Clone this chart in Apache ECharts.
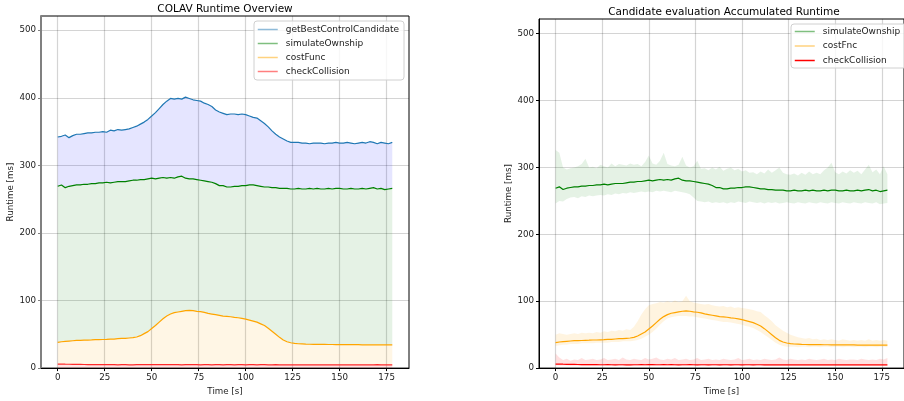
<!DOCTYPE html>
<html><head><meta charset="utf-8">
<script src="https://cdn.jsdelivr.net/npm/echarts@6/dist/echarts.min.js"></script>
<style>html,body{margin:0;padding:0;background:#fff}#c{width:904px;height:401px}</style>
</head><body><div id="c"></div>
<script>
// ---- data ----
const time = [0,2,4,6,8,10,12,14,16,18,20,22,24,26,28,30,32,34,36,38,40,42,44,46,48,50,52,54,56,58,60,62,64,66,68,70,72,74,76,78,80,82,84,86,88,90,92,94,96,98,100,102,104,106,108,110,112,114,116,118,120,122,124,126,128,130,132,134,136,138,140,142,144,146,148,150,152,154,156,158,160,162,164,166,168,170,172,174,176,178];
const getBestControlCandidate = [342,343,345,341,344,346,346,347,348,348, 349,349,350,349,352,351,353,352,353,354, 356,358,361,364,368,373,378,384,390,395, 399,398,399,398,401,399,397,396,395,392, 390,387,382,379,377,375,376,376,375,376, 375,373,371,370,366,362,357,351,346,342, 339,336,334,334,334,333,333,332,333,333, 333,332,333,333,334,333,333,334,333,332, 333,334,333,335,334,332,334,333,332,334];
const simulateOwnship = [269,271,267,269,270,271,271,272,272,273, 273,274,274,275,274,275,276,276,276,277, 278,278,279,279,280,281,280,281,282,281, 282,281,283,284,281,280,280,279,278,277, 276,275,273,270,270,268,268,269,269,270, 270,271,271,270,269,268,268,267,267,266, 266,266,265,265,266,265,265,266,265,266, 265,265,266,265,266,266,265,265,266,265, 265,266,265,266,267,265,266,264,265,266];
const costFunc = [38,39,39.5,40,40.5,41,41,41.3,41.5,41.7, 42,42,42.3,42.5,43,43,43.5,44,44,44.5, 45,46,48,51,54,58.5,63,68,73,77, 80,82,83,84,85,85.5,85,84,83.5,82.5, 81,80,79,78,77,76.5,76,75,74.5,73.5, 72.5,71,69.5,68,65.5,63,59,54.5,50,45.5, 41.5,39,37.5,36.5,36,35.8,35.5,35.3,35.2,35, 35,35,34.9,34.9,34.8,34.8,34.8,34.7,34.7,34.6, 34.6,34.5,34.5,34.5,34.4,34.4,34.4,34.3,34.3,34.3];
const checkCollision = [6,6,5.8,5.7,5.5,5.5,5.4,5.3,5.2,5.2, 5.1,5.1,5,5,5.1,5,4.9,5,5,4.9, 4.9,5,5,5.1,5,5.2,5.1,5,5,5.1, 5,5.1,5,4.9,5,5,5.1,5,4.9,5, 5,4.9,5,5,4.9,5,5,4.9,5,5, 4.9,5,5,4.9,5,5,4.8,4.9,5,4.8, 4.9,4.8,4.9,4.8,4.9,4.8,4.8,4.9,4.8,4.8, 4.9,4.8,4.8,4.9,4.8,4.8,4.9,4.8,4.8,4.9, 4.8,4.8,4.9,4.8,4.8,5,4.8,4.9,4.8,4.8];
const simUpper = [326,322,300,297,299,300,302,305,313,300, 301,299,304,302,300,306,302,305,304,303, 306,304,305,302,308,318,306,304,310,322, 305,303,302,304,316,303,300,302,310,298, 299,296,300,297,301,295,298,300,296,298, 294,296,292,293,290,294,291,297,292,296, 300,292,290,289,291,288,292,289,294,290, 292,290,296,300,307,293,290,294,291,296, 292,295,290,297,304,293,297,290,302,290];
const simLower = [246,250,249,253,255,256,254,257,256,258, 257,258,259,258,260,259,261,260,262,261, 263,262,263,264,263,264,263,265,264,265, 264,263,265,264,263,262,260,255,250,249, 248,249,247,248,247,248,246,248,247,249, 248,247,249,248,247,248,246,248,247,248, 246,247,248,247,246,248,247,246,248,247, 246,248,247,246,248,247,246,248,247,246, 248,247,246,248,247,246,248,245,246,247];
const costUpper = [50,52,51,50,51,52,51,53,52,53, 52,54,53,55,54,56,55,57,56,58, 57,62,70,80,88,94,96,97,99,98, 100,98,101,99,100,108,100,98,97,96, 95,96,94,93,92,93,91,92,90,91, 90,89,88,87,85,84,79,75,70,64, 60,56,53,50,48,46,45,44,45,43, 44,42,43,42,43,42,41,43,42,41, 42,41,42,41,43,41,42,41,42,41];
const costLower = [33,34,35,35,36,36,36,37,37,37, 37,38,38,38,38,39,39,39,40,40, 40,41,42,44,47,50,54,59,65,70, 74,76,77,78,78,78,77,77,76,75, 74,73,72,71,70,69,69,68,67,66, 65,63,62,60,57,54,50,46,42,38, 35,33,32,32,32,31,32,32,31,32, 32,31,32,32,31,32,32,31,32,32, 31,32,32,31,32,32,31,32,32,31];
const collUpper = [22,16,12,14,11,13,12,15,12,13, 14,12,13,15,12,13,14,12,16,13, 12,14,13,12,15,13,14,16,13,12, 14,13,15,12,13,14,12,13,15,12, 13,14,12,13,12,14,13,12,13,15, 12,13,14,12,13,12,14,13,12,13, 16,13,12,14,13,12,13,12,14,13, 12,13,14,12,13,12,14,13,12,13, 13,12,14,13,12,13,12,14,13,15];
const collLower = [4,4,3.8,3.8,3.6,3.6,3.5,3.5,3.5,3.5, 3.5,3.5,3.5,3.5,3.5,3.5,3.5,3.5,3.5,3.5, 3.5,3.5,3.5,3.5,3.5,3.5,3.5,3.5,3.5,3.5, 3.5,3.5,3.5,3.5,3.5,3.5,3.5,3.5,3.5,3.5, 3.5,3.5,3.5,3.5,3.5,3.5,3.5,3.5,3.5,3.5, 3.5,3.5,3.5,3.5,3.5,3.5,3.4,3.4,3.4,3.4, 3.4,3.4,3.4,3.4,3.4,3.4,3.4,3.4,3.4,3.4, 3.4,3.4,3.4,3.4,3.4,3.4,3.4,3.4,3.4,3.4, 3.4,3.4,3.4,3.4,3.4,3.4,3.4,3.4,3.4,3.4];
const zeros = time.map(() => 0);
const xTicks = [0,25,50,75,100,125,150,175];
const yTicks = [0,100,200,300,400,500];
const titles = ['COLAV Runtime Overview','Candidate evaluation Accumulated Runtime'];

// ---- chart ----
const F = 'DejaVu Sans';
const TXT = '#222';
const pairs = v => time.map((t,i)=>[t, v[i]]);
const GRIDLINE = {show:true, lineStyle:{color:'rgba(0,0,0,0.17)', width:1.2}};

function xAx(gi){
  return {type:'value', gridIndex:gi, min:-8.9, max:186.9,
    name:'Time [s]', nameLocation:'middle', nameGap:15,
    nameTextStyle:{fontFamily:F, fontSize:8.7, color:TXT},
    axisLine:{show:true, onZero:false, lineStyle:{color:'#000', width:1}},
    axisTick:{show:true, length:3, customValues:xTicks, lineStyle:{color:'#000'}},
    axisLabel:{customValues:xTicks, margin:5, fontFamily:F, fontSize:8.7, color:TXT},
    splitLine:GRIDLINE};
}
function yAx(gi, max){
  return {type:'value', gridIndex:gi, min:0, max:max,
    name:'Runtime [ms]', nameLocation:'middle', nameGap:25, nameRotate:90,
    nameTextStyle:{fontFamily:F, fontSize:8.7, color:TXT},
    axisLine:{show:true, onZero:false, lineStyle:{color: gi===0?'#808080':'#000', width: gi===0?2:1}},
    axisTick:{show:true, length:3, customValues:yTicks, lineStyle:{color: gi===0?'#808080':'#000'}},
    axisLabel:{customValues:yTicks, margin:5, fontFamily:F, fontSize:8.7, color:TXT},
    splitLine:GRIDLINE};
}
// filled band between lo and hi, drawn through the axis scales
function band(gi, lo, hi, color){
  return {type:'custom', xAxisIndex:gi, yAxisIndex:gi, silent:true, z:1,
    data: time.map((t,i)=>[t, lo[i], hi[i]]),
    encode:{x:0, y:[1,2]},
    renderItem: function(params, api){
      if (params.dataIndex !== 0) return;
      const top = [], bot = [];
      for (let i = 0; i < time.length; i++) {
        top.push(api.coord([time[i], hi[i]]));
        bot.push(api.coord([time[i], lo[i]]));
      }
      return {type:'polygon', shape:{points: top.concat(bot.reverse())}, style:{fill:color, stroke:null}};
    }};
}
function line(gi, name, data, color){
  return {type:'line', name:name, xAxisIndex:gi, yAxisIndex:gi, data:pairs(data),
    symbol:'none', z:3, lineStyle:{color:color, width:1.2}, itemStyle:{color:color}, emphasis:{disabled:true}};
}

const series = [
  band(0, zeros, checkCollision, 'rgba(255,0,0,0.1)'),
  band(0, checkCollision, costFunc, 'rgba(255,165,0,0.1)'),
  band(0, costFunc, simulateOwnship, 'rgba(0,128,0,0.1)'),
  band(0, simulateOwnship, getBestControlCandidate, 'rgba(0,0,255,0.1)'),
  line(0,'getBestControlCandidate',getBestControlCandidate,'#1f77b4'),
  line(0,'simulateOwnship',simulateOwnship,'#008000'),
  line(0,'costFunc',costFunc,'#ffa500'),
  line(0,'checkCollision',checkCollision,'#ff2a2a'),
  band(1, simLower, simUpper, 'rgba(0,128,0,0.1)'),
  band(1, costLower, costUpper, 'rgba(255,165,0,0.12)'),
  band(1, collLower, collUpper, 'rgba(255,0,0,0.12)'),
  line(1,'simulateOwnship',simulateOwnship,'#008000'),
  line(1,'costFnc',costFunc,'#ffa500'),
  line(1,'checkCollision',checkCollision,'#ff0000')
];

const legendCommon = {orient:'vertical', itemWidth:20, itemHeight:8, itemGap:5, selectedMode:false,
  backgroundColor:'rgba(255,255,255,0.8)', borderColor:'#d0d0d0', borderWidth:1, borderRadius:3,
  textStyle:{fontFamily:F, fontSize:9, color:TXT, padding:[0,0,0,3]}};
const hid = {opacity:0};

const option = {
  animation:false,
  backgroundColor:'#fff',
  grid:[
    {left:41, top:16, width:368, height:354, show:true, borderColor:'#000', borderWidth:1, backgroundColor:'transparent'},
    {left:539, top:19, width:370, height:354.3, show:true, borderColor:'#000', borderWidth:1, backgroundColor:'transparent'}
  ],
  xAxis:[xAx(0), xAx(1)],
  yAxis:[yAx(0,521), yAx(1,522)],
  legend:[
    Object.assign({}, legendCommon, {left:254, top:21, padding:[4,5,4,3],
      data:[
        {name:'getBestControlCandidate', itemStyle:hid, lineStyle:{color:'#8fbbd9', width:1.5}},
        {name:'simulateOwnship', itemStyle:hid, lineStyle:{color:'#7fbf7f', width:1.5}},
        {name:'costFunc', itemStyle:hid, lineStyle:{color:'#ffd27f', width:1.5}},
        {name:'checkCollision', itemStyle:hid, lineStyle:{color:'#ff7f7f', width:1.5}}
      ]}),
    Object.assign({}, legendCommon, {left:791, top:24, padding:[3,6,3,3], itemGap:5.5,
      data:[
        {name:'simulateOwnship', itemStyle:hid, lineStyle:{color:'#7fbf7f', width:1.5}},
        {name:'costFnc', itemStyle:hid, lineStyle:{color:'#ffd27f', width:1.5}},
        {name:'checkCollision', itemStyle:hid, lineStyle:{color:'#ff0000', width:1.5}}
      ]})
  ],
  graphic:[
    {type:'text', x:225, y:9.5, style:{text:titles[0], align:'center', verticalAlign:'middle', font:'10.5px "DejaVu Sans"', fill:'#000'}},
    {type:'text', x:724, y:12, style:{text:titles[1], align:'center', verticalAlign:'middle', font:'10.5px "DejaVu Sans"', fill:'#000'}}
  ],
  series:series
};
const chart = echarts.init(document.getElementById('c'));
chart.setOption(option);
</script></body></html>
